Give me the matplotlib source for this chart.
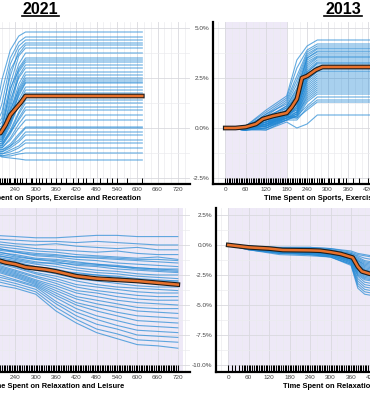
import matplotlib
matplotlib.use("Agg")
import matplotlib.pyplot as plt
import matplotlib.patheffects as pe
from matplotlib.ticker import MultipleLocator, FuncFormatter
from matplotlib.lines import Line2D

plt.rcParams['font.family'] = ['Liberation Sans', 'DejaVu Sans']

W, H = 370, 400

minute_ticks = [0, 60, 120, 180, 240, 300, 360, 420, 480, 540, 600, 660, 720]

# --- 2021, sports (top left) ---
sports21_knots = [0, 180, 200, 225, 250, 270, 615]
# each row: value at 180, 200, 225, 250, plateau (270 onwards)
sports21_lines = [
    [0.5, 2.4, 3.9, 4.6, 4.8], [0.3, 1.8, 3.5, 4.3, 4.55], [0.2, 1.2, 3.2, 4.1, 4.4],
    [0.1, 0.8, 2.6, 3.9, 4.25], [0.0, 0.5, 2.9, 3.7, 4.15], [-0.1, 0.3, 2.2, 3.6, 4.0],
    [-0.1, 0.1, 1.9, 3.2, 3.75], [-0.2, 0.0, 1.6, 3.0, 3.5], [-0.2, -0.1, 2.0, 2.9, 3.4],
    [-0.3, -0.2, 1.2, 2.8, 3.3], [-0.3, -0.2, 1.0, 2.6, 3.15], [-0.3, -0.3, 1.4, 2.5, 3.0],
    [-0.4, -0.3, 0.8, 2.2, 2.8], [-0.4, -0.4, 0.6, 2.0, 2.65], [-0.4, -0.4, 0.9, 1.9, 2.5],
    [-0.5, -0.5, 0.5, 1.8, 2.4], [-0.5, -0.5, 0.3, 1.7, 2.3], [-0.5, -0.6, 0.6, 1.6, 2.25],
    [-0.6, -0.6, 0.2, 1.4, 2.05], [-0.6, -0.7, 0.1, 1.2, 1.9], [-0.6, -0.7, 0.3, 1.1, 1.75],
    [-0.7, -0.8, -0.1, 0.8, 1.4], [-0.7, -0.8, -0.2, 0.7, 1.25], [-0.7, -0.9, -0.3, 0.5, 1.05],
    [-0.8, -0.9, -0.2, 0.4, 0.9], [-0.8, -1.0, -0.5, 0.2, 0.65], [-0.8, -1.0, -0.6, 0.0, 0.4],
    [-0.9, -1.1, -0.8, -0.3, 0.05], [-0.9, -1.1, -0.9, -0.4, 0.0], [-1.0, -1.2, -0.9, -0.6, -0.2],
    [-1.0, -1.2, -1.0, -0.7, -0.35], [-1.1, -1.3, -1.1, -0.9, -0.6], [-1.1, -1.3, -1.2, -1.0, -0.75],
    [-1.2, -1.4, -1.3, -1.2, -1.0], [-1.2, -1.4, -1.4, -1.3, -1.25], [-1.3, -1.45, -1.5, -1.55, -1.6],
]
sports21_mean_x = [0, 180, 196, 211, 225, 240, 255, 270, 615]
sports21_mean_y = [0, -0.3, -0.25, 0.15, 0.65, 0.95, 1.25, 1.6, 1.6]
sports21_rug = [0, 5, 10, 15, 20, 25, 30, 35, 40, 45, 50, 55, 60, 65, 70, 75, 80, 85, 90, 95,
                100, 105, 110, 115, 120, 125, 130, 135, 140, 150, 155, 160, 165, 170, 180, 185,
                195, 200, 205, 210, 215, 220, 225, 235, 240, 245, 255, 260, 270, 285, 290, 300,
                310, 320, 330, 345, 360, 375, 390, 410, 425, 440, 450, 470, 490, 510, 525, 540,
                570, 615]

# --- 2013, sports (top right) ---
sports13_knots = [0, 60, 120, 180, 210, 240, 270, 720]
# each row: value at 60, 120, 180, 210, 240, plateau (270 onwards)
sports13_lines = [
    [0.1, 0.9, 1.6, 3.4, 4.1, 4.4], [0.1, 0.8, 1.5, 3.0, 3.9, 4.2], [0.0, 0.7, 1.4, 2.6, 3.8, 4.1],
    [0.1, 0.6, 1.3, 2.4, 3.7, 4.0], [0.0, 0.7, 1.2, 2.2, 3.6, 3.95], [0.0, 0.5, 1.1, 2.0, 3.5, 3.85],
    [0.1, 0.6, 1.0, 1.8, 3.5, 3.8], [0.0, 0.5, 1.1, 1.9, 3.4, 3.7], [0.0, 0.4, 0.9, 1.7, 3.3, 3.6],
    [-0.1, 0.5, 0.8, 1.5, 3.2, 3.55], [0.0, 0.4, 1.0, 1.6, 3.1, 3.5], [0.0, 0.3, 0.8, 1.4, 3.0, 3.4],
    [0.0, 0.4, 0.7, 1.3, 2.9, 3.3], [-0.1, 0.3, 0.9, 1.5, 2.8, 3.25], [0.0, 0.3, 0.7, 1.2, 2.8, 3.2],
    [0.0, 0.2, 0.8, 1.3, 2.7, 3.1], [0.0, 0.3, 0.6, 1.1, 2.6, 3.05], [-0.1, 0.2, 0.7, 1.2, 2.6, 3.0],
    [0.0, 0.3, 0.6, 1.0, 2.5, 2.95], [0.0, 0.2, 0.5, 1.1, 2.4, 2.85], [0.0, 0.1, 0.7, 0.9, 2.4, 2.8],
    [-0.1, 0.2, 0.6, 1.0, 2.3, 2.7], [0.0, 0.3, 0.5, 0.8, 2.2, 2.6], [0.0, 0.1, 0.6, 0.9, 2.1, 2.5],
    [-0.1, 0.2, 0.5, 0.8, 2.0, 2.4], [0.0, 0.1, 0.4, 0.7, 1.9, 2.3], [0.0, 0.2, 0.6, 0.8, 1.8, 2.2],
    [-0.1, 0.1, 0.5, 0.7, 1.7, 2.1], [0.0, 0.0, 0.4, 0.6, 1.6, 2.0], [0.0, 0.1, 0.5, 0.7, 1.5, 1.9],
    [-0.1, 0.0, 0.4, 0.6, 1.4, 1.8], [0.0, 0.1, 0.6, 0.5, 1.3, 1.7], [-0.1, 0.0, 0.5, 0.6, 1.1, 1.55],
    [0.0, -0.1, 0.4, 0.4, 1.0, 1.4], [-0.1, 0.0, 0.5, 0.5, 0.9, 1.3], [-0.1, -0.1, 0.3, 0.0, 0.2, 0.65],
]
sports13_mean_x = [0, 30, 60, 90, 110, 140, 180, 195, 210, 225, 240, 265, 285, 720]
sports13_mean_y = [0, 0, 0.05, 0.2, 0.45, 0.6, 0.75, 1.05, 1.45, 2.5, 2.6, 2.9, 3.05, 3.05]
sports13_rug = [0, 5, 10, 15, 20, 25, 30, 35, 40, 45, 50, 55, 60, 65, 70, 75, 80, 85, 90, 95,
                100, 105, 110, 115, 120, 125, 130, 135, 140, 145, 150, 155, 160, 165, 170, 175,
                180, 185, 190, 195, 200, 205, 210, 215, 220, 225, 230, 235, 240, 245, 250, 255,
                260, 270, 275, 280, 285, 290, 300, 305, 310, 320, 330, 335, 345, 355, 375, 393,
                418, 450, 480, 540, 600, 690]

# --- 2021, relaxation (bottom left) ---
relax21_knots = [0, 180, 240, 300, 360, 420, 480, 540, 600, 660, 720]
relax21_lines = [
    [0.8, 0.7, 0.6, 0.6, 0.7, 0.8, 0.8, 0.7, 0.7, 0.7],
    [0.5, 0.4, 0.3, 0.3, 0.2, 0.3, 0.2, 0.1, 0.0, 0.0],
    [0.3, 0.1, 0.0, 0.1, -0.1, -0.2, -0.3, -0.2, -0.4, -0.4],
    [0.1, -0.1, -0.3, -0.4, -0.5, -0.6, -0.5, -0.7, -0.8, -0.8],
    [-0.1, -0.3, -0.5, -0.6, -0.8, -0.9, -1.0, -1.1, -1.0, -1.2],
    [-0.2, -0.6, -0.8, -0.9, -1.0, -1.0, -1.1, -1.2, -1.2, -1.3],
    [-0.3, -0.5, -0.7, -0.8, -1.0, -1.1, -1.2, -1.3, -1.4, -1.5],
    [-0.4, -0.6, -0.9, -1.0, -1.2, -1.3, -1.5, -1.6, -1.7, -1.8],
    [-0.5, -0.9, -1.2, -1.3, -1.5, -1.6, -1.8, -2.0, -2.1, -2.2],
    [-0.6, -0.8, -1.1, -1.2, -1.4, -1.6, -1.7, -1.9, -2.0, -2.0],
    [-0.7, -1.0, -1.2, -1.4, -1.7, -1.8, -2.0, -2.1, -2.2, -2.3],
    [-0.8, -1.2, -1.5, -1.5, -1.6, -1.7, -1.8, -1.9, -2.0, -2.1],
    [-0.9, -1.1, -1.4, -1.6, -1.9, -2.1, -2.2, -2.4, -2.5, -2.5],
    [-1.0, -1.3, -1.6, -1.8, -2.1, -2.3, -2.4, -2.6, -2.7, -2.8],
    [-1.1, -1.4, -1.8, -2.0, -2.4, -2.5, -2.7, -2.9, -3.0, -3.0],
    [-1.2, -1.6, -2.0, -2.2, -2.3, -2.5, -2.6, -2.8, -2.9, -3.0],
    [-1.2, -1.5, -1.9, -2.2, -2.6, -2.8, -3.0, -3.1, -3.2, -3.3],
    [-1.3, -1.7, -2.1, -2.4, -2.8, -3.0, -3.2, -3.4, -3.5, -3.5],
    [-1.4, -1.8, -2.3, -2.6, -3.0, -3.3, -3.5, -3.6, -3.7, -3.8],
    [-1.5, -1.9, -2.4, -2.8, -3.3, -3.5, -3.7, -3.9, -4.0, -4.0],
    [-1.6, -2.1, -2.6, -3.0, -3.5, -3.8, -4.0, -4.2, -4.3, -4.3],
    [-1.7, -2.2, -2.7, -3.2, -3.8, -4.0, -4.3, -4.5, -4.6, -4.6],
    [-1.8, -2.3, -2.9, -3.4, -4.0, -4.3, -4.6, -4.8, -4.9, -5.0],
    [-1.9, -2.4, -3.0, -3.6, -4.3, -4.6, -4.9, -5.2, -5.3, -5.3],
    [-2.0, -2.5, -3.1, -3.8, -4.5, -4.9, -5.2, -5.5, -5.6, -5.7],
    [-2.1, -2.6, -3.2, -4.0, -4.8, -5.2, -5.6, -5.9, -6.0, -6.1],
    [-2.2, -2.7, -3.3, -4.2, -5.0, -5.5, -5.9, -6.3, -6.4, -6.5],
    [-2.4, -2.9, -3.4, -4.4, -5.3, -5.9, -6.3, -6.7, -6.8, -6.9],
    [-2.6, -3.0, -3.5, -4.7, -5.6, -6.2, -6.7, -7.1, -7.2, -7.3],
    [-2.8, -3.2, -3.7, -4.9, -5.9, -6.6, -7.0, -7.5, -7.6, -7.7],
    [-3.0, -3.4, -3.9, -5.2, -6.2, -7.0, -7.4, -7.9, -8.0, -8.1],
    [-3.3, -3.6, -4.1, -5.5, -6.5, -7.3, -7.8, -8.3, -8.4, -8.6],
]
relax21_mean_x = [0, 60, 120, 180, 210, 240, 270, 330, 360, 420, 480, 540, 600, 660, 720]
relax21_mean_y = [0, -0.4, -0.8, -1.2, -1.45, -1.6, -1.85, -2.05, -2.2, -2.6, -2.8, -2.9, -3.0, -3.15, -3.3]
relax21_rug = [0, 5, 10, 15, 20, 25, 30, 35, 40, 45, 50, 55, 60, 65, 70, 75, 80, 85, 90, 95,
               100, 105, 110, 115, 120, 125, 130, 135, 140, 145, 150, 155, 160, 165, 170, 175,
               180, 185, 190, 195, 200, 205, 210, 215, 220, 225, 230, 235, 240, 245, 250, 255,
               260, 265, 270, 275, 280, 285, 290, 295, 300, 305, 310, 315, 320, 325, 330, 335,
               340, 345, 350, 355, 360, 365, 370, 375, 380, 385, 390, 395, 400, 405, 410, 415,
               420, 425, 430, 435, 440, 445, 450, 455, 460, 465, 470, 475, 480, 485, 490, 495,
               500, 505, 510, 515, 520, 525, 530, 535, 540, 545, 550, 555, 560, 565, 570, 575,
               580, 585, 590, 595, 600, 605, 610, 615, 620, 625, 630, 635, 640, 645, 650, 655,
               660, 665, 670, 675, 680, 685, 690, 695, 700, 705, 710, 715, 720]

# --- 2013, relaxation (bottom right) ---
relax13_knots = [0, 60, 150, 240, 300, 360, 380, 400, 420, 480, 600, 720]
relax13_lines = [
    [-0.1, -0.2, -0.2, -0.3, -0.6, -0.8, -0.9, -1.0, -1.1, -1.2, -1.3],
    [-0.1, -0.3, -0.3, -0.4, -0.7, -0.9, -1.1, -1.2, -1.3, -1.4, -1.5],
    [-0.2, -0.3, -0.3, -0.4, -0.7, -1.0, -1.3, -1.4, -1.5, -1.6, -1.7],
    [-0.1, -0.3, -0.4, -0.5, -0.8, -1.1, -1.4, -1.5, -1.6, -1.7, -1.8],
    [-0.2, -0.4, -0.4, -0.5, -0.8, -1.2, -1.5, -1.6, -1.7, -1.8, -1.9],
    [-0.2, -0.4, -0.4, -0.5, -0.9, -1.3, -1.6, -1.7, -1.8, -1.9, -2.0],
    [-0.1, -0.3, -0.4, -0.5, -0.9, -1.3, -1.7, -1.8, -1.9, -2.0, -2.1],
    [-0.2, -0.4, -0.5, -0.6, -1.0, -1.4, -1.8, -1.9, -2.0, -2.1, -2.2],
    [-0.2, -0.4, -0.4, -0.5, -1.0, -1.5, -1.9, -2.0, -2.1, -2.2, -2.3],
    [-0.2, -0.5, -0.5, -0.6, -1.0, -1.6, -2.0, -2.1, -2.2, -2.3, -2.4],
    [-0.2, -0.4, -0.5, -0.6, -1.1, -1.7, -2.1, -2.2, -2.3, -2.4, -2.5],
    [-0.3, -0.5, -0.5, -0.6, -1.0, -1.7, -2.1, -2.25, -2.35, -2.45, -2.55],
    [-0.2, -0.5, -0.6, -0.7, -1.1, -1.8, -2.2, -2.3, -2.4, -2.5, -2.6],
    [-0.2, -0.4, -0.5, -0.6, -1.1, -1.9, -2.2, -2.35, -2.45, -2.55, -2.65],
    [-0.3, -0.5, -0.5, -0.7, -1.2, -1.9, -2.3, -2.4, -2.5, -2.6, -2.7],
    [-0.2, -0.5, -0.6, -0.7, -1.2, -2.0, -2.4, -2.5, -2.6, -2.7, -2.8],
    [-0.3, -0.6, -0.6, -0.7, -1.2, -2.1, -2.5, -2.6, -2.7, -2.8, -2.9],
    [-0.2, -0.5, -0.6, -0.8, -1.3, -2.2, -2.6, -2.7, -2.8, -2.9, -3.0],
    [-0.3, -0.6, -0.7, -0.8, -1.3, -2.3, -2.7, -2.8, -2.9, -3.0, -3.1],
    [-0.3, -0.6, -0.6, -0.8, -1.3, -2.4, -2.8, -2.9, -3.0, -3.1, -3.2],
    [-0.3, -0.6, -0.7, -0.8, -1.4, -2.5, -2.9, -3.0, -3.1, -3.2, -3.3],
    [-0.3, -0.6, -0.7, -0.9, -1.4, -2.6, -3.1, -3.2, -3.3, -3.4, -3.5],
    [-0.3, -0.7, -0.7, -0.9, -1.5, -2.8, -3.3, -3.4, -3.5, -3.6, -3.7],
    [-0.3, -0.6, -0.8, -0.9, -1.5, -3.0, -3.5, -3.6, -3.7, -3.8, -3.9],
    [-0.4, -0.7, -0.8, -1.0, -1.6, -3.2, -3.7, -3.8, -3.9, -4.0, -4.1],
    [-0.4, -0.7, -0.8, -1.0, -1.6, -3.4, -3.9, -4.0, -4.1, -4.2, -4.3],
    [-0.4, -0.8, -0.9, -1.0, -1.7, -3.6, -4.1, -4.2, -4.3, -4.4, -4.5],
    [-0.1, -0.2, -0.2, -0.3, -0.5, -0.7, -0.8, -0.9, -1.0, -1.1, -1.2],
]
relax13_mean_x = [0, 60, 120, 160, 240, 270, 300, 330, 365, 380, 392, 415, 480, 540, 600, 660, 720]
relax13_mean_y = [0, -0.2, -0.3, -0.42, -0.45, -0.48, -0.6, -0.75, -1.05, -1.8, -2.2, -2.4,
                  -2.5, -2.6, -2.7, -2.8, -2.9]
relax13_rug = [0, 10, 20, 30, 40, 45, 50, 55, 60, 65, 70, 75, 80, 85, 90, 95,
               100, 105, 110, 115, 120, 125, 130, 135, 140, 145, 150, 155, 160, 165, 170, 175,
               180, 185, 190, 195, 200, 205, 210, 215, 220, 225, 230, 235, 240, 245, 250, 255,
               260, 265, 270, 275, 280, 285, 290, 295, 300, 305, 310, 315, 320, 325, 330, 335,
               340, 345, 350, 355, 360, 365, 370, 375, 380, 385, 390, 395, 400, 405, 410, 415,
               420, 425, 430, 435, 440, 445, 450, 455, 460, 465, 470, 475, 480, 490, 500, 510,
               520, 540, 560, 580, 600, 630, 660, 690, 720]

BLUE = "#2288d4"
ORANGE = "#e8712c"
SHADE = "#eee9f7"


def box(left, right, top, bottom):
    return [left / W, 1 - bottom / H, (right - left) / W, (bottom - top) / H]


def draw_panel(ax, knots, rows, mean_x, mean_y, rug, ylim, shade, xlabel, pad_end=False):
    if shade:
        ax.axvspan(shade[0], shade[1], color=SHADE, lw=0, zorder=0)
    for row in rows:
        ys = [0] + list(row)
        if pad_end:
            ys = ys + [row[-1]]
        ax.plot(knots, ys, color=BLUE, lw=0.8, alpha=0.7, zorder=2)
    ax.plot(mean_x, mean_y, color=ORANGE, lw=1.8, zorder=4,
            path_effects=[pe.Stroke(linewidth=3.4, foreground="#1e1e1e"), pe.Normal()])
    ax.vlines(rug, 0, 0.04, transform=ax.get_xaxis_transform(), color="black", lw=0.75, zorder=5)

    ax.set_xlim(-36, 756)
    ax.set_ylim(*ylim)
    ax.set_xticks(minute_ticks)
    ax.xaxis.set_minor_locator(MultipleLocator(20))
    ax.yaxis.set_major_locator(MultipleLocator(2.5))
    ax.yaxis.set_minor_locator(MultipleLocator(1.25))
    ax.yaxis.set_major_formatter(FuncFormatter(lambda v, _: f"{v:.1f}%"))
    ax.set_axisbelow(True)
    ax.grid(which="major", color="#d9d9de", lw=0.6)
    ax.grid(which="minor", color="#ebebef", lw=0.5)
    for s in ["top", "right"]:
        ax.spines[s].set_visible(False)
    for s in ["left", "bottom"]:
        ax.spines[s].set_linewidth(1.6)
        ax.spines[s].set_color("black")
    ax.tick_params(which="both", length=0, labelsize=4.6, labelcolor="#444444", pad=2.5)
    ax.set_xlabel(xlabel, fontsize=5.4, fontweight="bold", labelpad=1.5)


fig = plt.figure(figsize=(W / 100, H / 100), dpi=100)

ax_tl = fig.add_axes(box(-78, 190, 22, 184))
ax_tr = fig.add_axes(box(213, 483, 22, 184))
ax_bl = fig.add_axes(box(-78, 190, 208, 372))
ax_br = fig.add_axes(box(216, 486, 208, 372))

sports_label = "Time Spent on Sports, Exercise and Recreation"
relax_label = "Time Spent on Relaxation and Leisure"

draw_panel(ax_tl, sports21_knots, sports21_lines, sports21_mean_x, sports21_mean_y,
           sports21_rug, (-2.8, 5.3), None, sports_label, pad_end=True)
draw_panel(ax_tr, sports13_knots, sports13_lines, sports13_mean_x, sports13_mean_y,
           sports13_rug, (-2.8, 5.3), (0, 180), sports_label, pad_end=True)
draw_panel(ax_bl, relax21_knots, relax21_lines, relax21_mean_x, relax21_mean_y,
           relax21_rug, (-10.58, 3.08), (0, 735), relax_label)
draw_panel(ax_br, relax13_knots, relax13_lines, relax13_mean_x, relax13_mean_y,
           relax13_rug, (-10.58, 3.08), (0, 745), relax_label)

# underlined year titles
for label, cx, x0, x1, uy in [("2021", 40.5, 22, 59, 16), ("2013", 343, 324, 362, 15.5)]:
    fig.text(cx / W, 1 - 9.3 / H, label, ha="center", va="center",
             fontsize=11.5, fontweight="bold", color="black")
    fig.add_artist(Line2D([x0 / W, x1 / W], [1 - uy / H, 1 - uy / H],
                          transform=fig.transFigure, color="black", lw=1.2))

fig.savefig("out.png", dpi=100)
